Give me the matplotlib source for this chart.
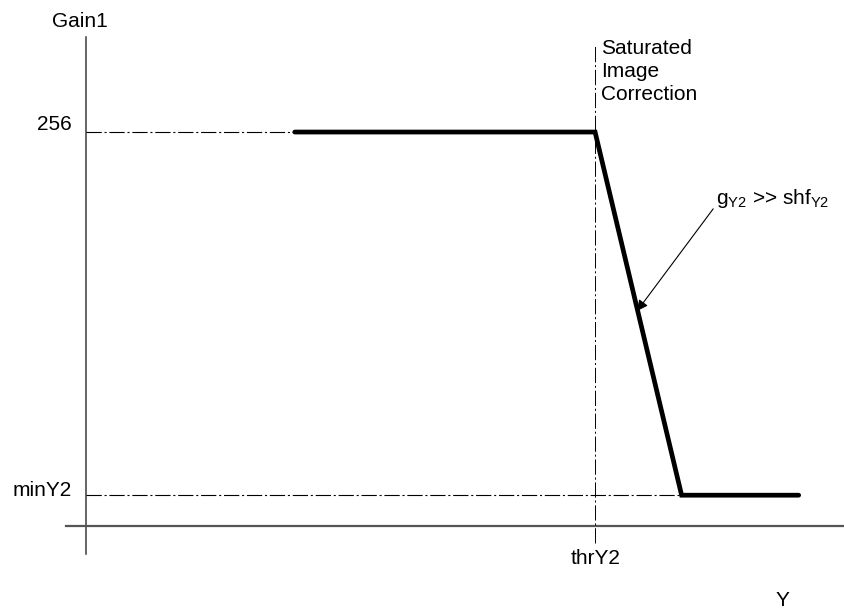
import matplotlib
matplotlib.use('Agg')
import matplotlib.pyplot as plt

plt.rcParams['font.family'] = ['Liberation Sans', 'DejaVu Sans']
plt.rcParams['mathtext.fontset'] = 'custom'
plt.rcParams['mathtext.rm'] = 'Liberation Sans'
plt.rcParams['mathtext.it'] = 'Liberation Sans'
plt.rcParams['lines.scale_dashes'] = False

# curve: gain vs Y (arbitrary units)
curve_y = [82, 200, 234, 280]
curve_gain = [256, 256, 20, 20]
thr_y2 = 200
gain_max = 256
min_y2 = 20

# tick / axis labels
ytick_labels = ['256', 'minY2']
xtick_label = 'thrY2'
gain_label = 'Gain1'
y_label = 'Y'

dashdot = (0, (11, 2, 1.5, 2))
fs = 15

fig = plt.figure(figsize=(8.44, 6.10), dpi=100)
ax = fig.add_axes([0, 0, 1, 1])
ax.set_xlim(-33.8, 297.8)
ax.set_ylim(-54.6, 341.8)
ax.axis('off')

# axes lines
ax.plot([0, 0], [-18.2, 317.7], color='#3a3a3a', lw=1.1)
ax.plot([-7.9, 297.8], [0, 0], color='#555555', lw=1.6)

# reference dash-dot lines
ax.plot([0, curve_y[0]], [gain_max, gain_max], color='black', lw=0.8, linestyle=dashdot)
ax.plot([0, curve_y[2]], [min_y2, min_y2], color='black', lw=0.8, linestyle=dashdot)
ax.plot([thr_y2, thr_y2], [-11, 313.5], color='black', lw=0.7, linestyle=dashdot)

# gain curve
ax.plot(curve_y, curve_gain, color='black', lw=3.4, solid_capstyle='round',
        solid_joinstyle='miter')

# labels
ax.text(-2.4, 328, gain_label, ha='center', va='center', fontsize=fs)
ax.text(-5.5, 261, ytick_labels[0], ha='right', va='center', fontsize=fs)
ax.text(-5.5, 23, ytick_labels[1], ha='right', va='center', fontsize=fs)
ax.text(thr_y2, -21, xtick_label, ha='center', va='center', fontsize=fs)
ax.text(273.5, -48.7, y_label, ha='center', va='center', fontsize=fs)
ax.text(202.4, 295.4, 'Saturated\nImage\nCorrection', ha='left', va='center',
        fontsize=fs, linespacing=1.28)

ax.annotate(r'g$_{\mathrm{Y2}}$ >> shf$_{\mathrm{Y2}}$', xy=(216.5, 139.7),
            xytext=(247.5, 213), ha='left', va='center', fontsize=fs,
            arrowprops=dict(arrowstyle='-|>', color='black', lw=0.8,
                            mutation_scale=16, shrinkA=0, shrinkB=0,
                            relpos=(0, 0.2)))

fig.savefig('out.png', dpi=100)
